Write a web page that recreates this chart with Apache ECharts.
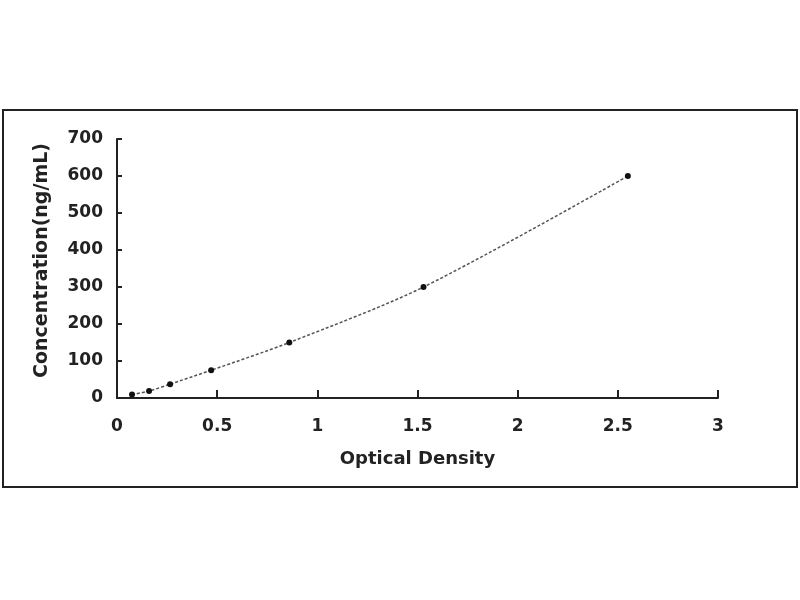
<!DOCTYPE html>
<html>
<head>
<meta charset="utf-8">
<script src="https://cdn.jsdelivr.net/npm/echarts@6/dist/echarts.min.js"></script>
<style>
html,body{margin:0;padding:0;background:#fff;}
#chart{width:800px;height:600px;}
</style>
</head>
<body>
<div id="chart"></div>
<script>
const opticalDensity = [0.075, 0.16, 0.265, 0.47, 0.86, 1.53, 2.55];
const concentration = [9.375, 18.75, 37.5, 75, 150, 300, 600];
const xTicks = [0, 0.5, 1, 1.5, 2, 2.5, 3];
const yTicks = [0, 100, 200, 300, 400, 500, 600, 700];

const points = opticalDensity.map((x, i) => [x, concentration[i]]);
const font = '"DejaVu Sans", "Liberation Sans", Arial, sans-serif';

const chart = echarts.init(document.getElementById('chart'));
chart.setOption({
  backgroundColor: '#fff',
  animation: false,
  graphic: [{
    type: 'rect',
    shape: { x: 3, y: 110, width: 794, height: 377 },
    style: { fill: 'none', stroke: '#222', lineWidth: 2 },
    silent: true
  }],
  grid: { left: 117, right: 82, top: 139, bottom: 202 },
  xAxis: {
    type: 'value',
    min: xTicks[0], max: xTicks[xTicks.length - 1], interval: 0.5,
    name: 'Optical Density',
    nameLocation: 'middle',
    nameGap: 52,
    nameTextStyle: { fontFamily: font, fontWeight: 'bold', fontSize: 18, color: '#222' },
    axisLine: { show: true, lineStyle: { color: '#222', width: 2 } },
    axisTick: { show: true, inside: true, length: 8, lineStyle: { color: '#222', width: 2 } },
    axisLabel: { fontFamily: font, fontWeight: 'bold', fontSize: 17, color: '#222', margin: 20,
      formatter: v => String(v) },
    splitLine: { show: false }
  },
  yAxis: {
    type: 'value',
    min: yTicks[0], max: yTicks[yTicks.length - 1], interval: 100,
    name: 'Concentration(ng/mL)',
    nameLocation: 'middle',
    nameGap: 65,
    nameTextStyle: { fontFamily: font, fontWeight: 'bold', fontSize: 19, color: '#222',
      padding: [0, 0, 0, 16] },
    axisLine: { show: true, lineStyle: { color: '#222', width: 2 } },
    axisTick: { show: true, inside: true, length: 5, lineStyle: { color: '#222', width: 2 } },
    axisLabel: { fontFamily: font, fontWeight: 'bold', fontSize: 17, color: '#222', margin: 14 },
    splitLine: { show: false }
  },
  series: [{
    type: 'line',
    data: points,
    smooth: 0.3,
    symbol: 'circle',
    symbolSize: 6,
    itemStyle: { color: '#111' },
    lineStyle: { color: '#555', width: 1.5, type: [3, 2] }
  }]
});
</script>
</body>
</html>
